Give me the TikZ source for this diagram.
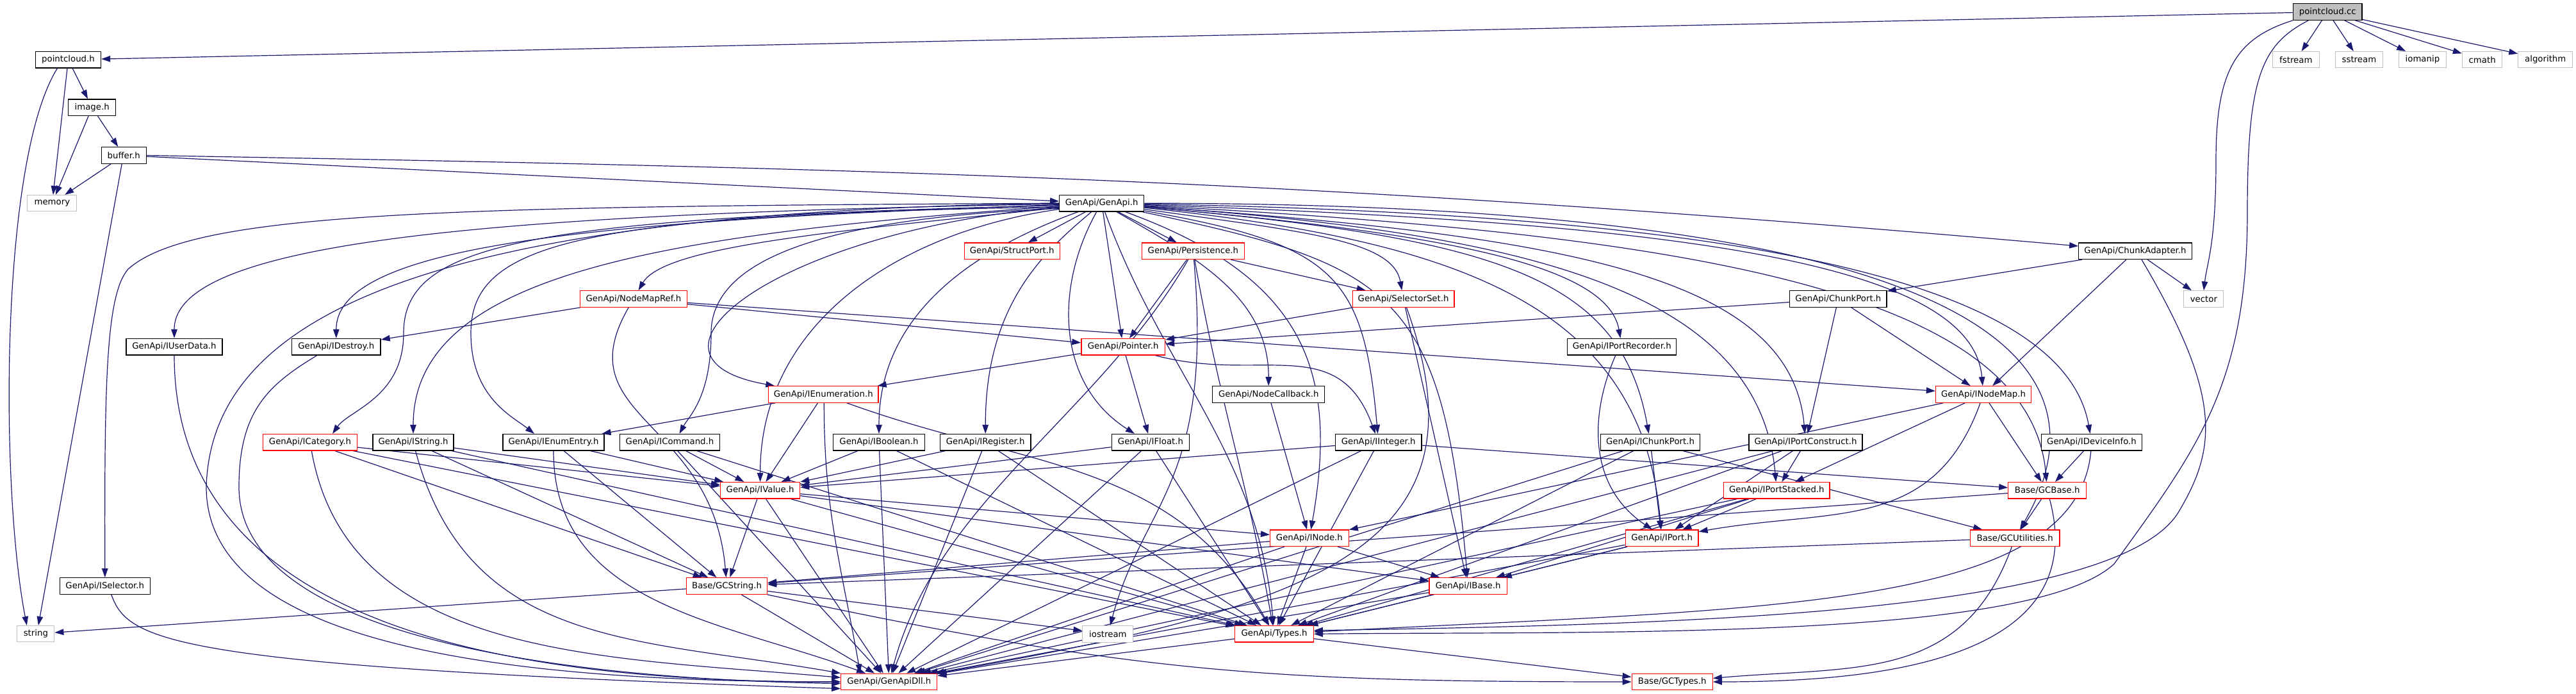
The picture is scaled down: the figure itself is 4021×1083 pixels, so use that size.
\documentclass[tikz,border=0pt]{standalone}
\usepackage{fontspec}
\setmainfont{DejaVu Sans}
\usetikzlibrary{arrows.meta}
\pgfdeclarelayer{bg}
\pgfsetlayers{bg,main}
\definecolor{edgec}{HTML}{191970}
\definecolor{grayb}{HTML}{BFBFBF}
\tikzset{
 box/.style={draw=black, line width=1.3pt, fill=white, minimum height=25.5pt, inner sep=0pt, font=\fontsize{13.3}{15}\selectfont, text=black},
 redbox/.style={box, draw=red},
 sysbox/.style={box, draw=grayb, line width=1pt},
 rootbox/.style={box, fill=grayb},
 edg/.style={draw=edgec, line width=1.2pt, -{Triangle[length=14pt,width=9.5pt]}},
}
% curved edge: source, out angle, out distance, in angle, in distance, target
\newcommand{\cedge}[6]{\draw[edg] (#1.#2) .. controls +(#2:#3pt) and +(#4:#5pt) .. (#6.#4);}
\begin{document}
\begin{tikzpicture}[x=1pt,y=-1pt]
\useasboundingbox (0,0) rectangle (4021,1083);
\node[rootbox, minimum width=107.5pt] (pc) at (3633.2,18.5) {pointcloud.cc};
\node[box, minimum width=102pt] (pch) at (106.5,93.2) {pointcloud.h};
\node[box, minimum width=74pt] (image) at (143.7,167.7) {image.h};
\node[box, minimum width=70pt] (buffer) at (193.2,242.5) {buffer.h};
\node[sysbox, minimum width=77pt] (memory) at (81.4,317.2) {memory};
\node[box, minimum width=132pt] (genapi) at (1719.7,317.2) {GenApi/GenApi.h};
\node[redbox, minimum width=149pt] (structport) at (1579.7,391.8) {GenApi/StructPort.h};
\node[redbox, minimum width=160pt] (persistence) at (1862.4,391.8) {GenApi/Persistence.h};
\node[box, minimum width=176.5pt] (chunkadapter) at (3333,391.8) {GenApi/ChunkAdapter.h};
\node[sysbox, minimum width=73.6pt] (fstream) at (3583.8,93.2) {fstream};
\node[sysbox, minimum width=74pt] (sstream) at (3682.4,93.2) {sstream};
\node[sysbox, minimum width=74pt] (iomanip) at (3781.4,93.2) {iomanip};
\node[sysbox, minimum width=62.5pt] (cmath) at (3874.6,93.2) {cmath};
\node[sysbox, minimum width=85pt] (algorithm) at (3973.2,93.2) {algorithm};
\node[sysbox, minimum width=62pt] (vector) at (3439.9,466.5) {vector};
\node[redbox, minimum width=149pt] (inodemap) at (3096,615.5) {GenApi/INodeMap.h};
\node[box, minimum width=157.6pt] (ideviceinfo) at (3265,690.2) {GenApi/IDeviceInfo.h};
\node[redbox, minimum width=167pt] (nodemapref) at (988.9,466.5) {GenApi/NodeMapRef.h};
\node[box, minimum width=150pt] (iuserdata) at (272,541.2) {GenApi/IUserData.h};
\node[box, minimum width=138.6pt] (idestroy) at (524.8,541.2) {GenApi/IDestroy.h};
\node[redbox, minimum width=146.7pt] (icategory) at (484,690.2) {GenApi/ICategory.h};
\node[box, minimum width=126pt] (istring) at (645,690.2) {GenApi/IString.h};
\node[box, minimum width=158pt] (ienumentry) at (864,690.2) {GenApi/IEnumEntry.h};
\node[box, minimum width=155.4pt] (icommand) at (1045.5,690.2) {GenApi/ICommand.h};
\node[redbox, minimum width=130.6pt] (pointer) at (1753.2,541.2) {GenApi/Pointer.h};
\node[redbox, minimum width=171.4pt] (ienumeration) at (1285.3,615.5) {GenApi/IEnumeration.h};
\node[box, minimum width=174.8pt] (nodecallback) at (1980.2,615.5) {GenApi/NodeCallback.h};
\node[box, minimum width=142.7pt] (iboolean) at (1372,690.2) {GenApi/IBoolean.h};
\node[box, minimum width=141.3pt] (iregister) at (1538.2,690.2) {GenApi/IRegister.h};
\node[box, minimum width=121.3pt] (ifloat) at (1796,690.2) {GenApi/IFloat.h};
\node[redbox, minimum width=158.8pt] (selectorset) at (2190.6,466.5) {GenApi/SelectorSet.h};
\node[box, minimum width=151.3pt] (chunkport) at (2869.4,466.5) {GenApi/ChunkPort.h};
\node[box, minimum width=170pt] (iportrecorder) at (2531.8,541.2) {GenApi/IPortRecorder.h};
\node[box, minimum width=134.6pt] (iinteger) at (2151.7,690.2) {GenApi/IInteger.h};
\node[box, minimum width=155.4pt] (ichunkport) at (2576,690.2) {GenApi/IChunkPort.h};
\node[box, minimum width=177pt] (iportconstruct) at (2818.5,690.2) {GenApi/IPortConstruct.h};
\node[box, minimum width=141.3pt] (iselector) at (163.8,914.5) {GenApi/ISelector.h};
\node[sysbox, minimum width=58pt] (string) at (55.9,989.2) {string};
\node[redbox, minimum width=124pt] (ivalue) at (1186.6,765.3) {GenApi/IValue.h};
\node[redbox, minimum width=126pt] (gcstring) at (1134.6,914.5) {Base/GCString.h};
\node[sysbox, minimum width=79pt] (iostream) at (1729.4,989.3) {iostream};
\node[redbox, minimum width=122.5pt] (types) at (1989,989.3) {GenApi/Types.h};
\node[redbox, minimum width=150pt] (genapidll) at (1387.8,1064) {GenApi/GenApiDll.h};
\node[redbox, minimum width=122.6pt] (inode) at (2043.9,839.8) {GenApi/INode.h};
\node[redbox, minimum width=165.4pt] (iportstacked) at (2773.3,765.3) {GenApi/IPortStacked.h};
\node[redbox, minimum width=113.8pt] (iport) at (2594.1,839.8) {GenApi/IPort.h};
\node[redbox, minimum width=121.3pt] (ibase) at (2291.7,914.5) {GenApi/IBase.h};
\node[redbox, minimum width=126pt] (gctypes) at (2610.2,1064) {Base/GCTypes.h};
\node[redbox, minimum width=121.8pt] (gcbase) at (3195.7,765.3) {Base/GCBase.h};
\node[redbox, minimum width=139.4pt] (gcutilities) at (3145.2,839.8) {Base/GCUtilities.h};

\begin{pgfonlayer}{bg}
% pointcloud.cc
\draw[edg] (pc) -- (pch);
\draw[edg] (pc) -- (fstream);
\draw[edg] (pc) -- (sstream);
\draw[edg] (pc) -- (iomanip);
\draw[edg] (pc) -- (cmath);
\draw[edg] (pc) -- (algorithm);
\draw[edg] (pc.south west) .. controls (3490,60) and (3459,110) .. (3459,250) .. controls (3459,380) and (3445,410) .. (vector.north);
\draw[edg] ([xshift=-30pt]pc.south) .. controls (3530,70) and (3508,120) .. (3508,330) .. controls (3508,600) and (3430,700) .. (3300,880) .. controls (3170,1000) and (2500,985) .. (types.east);
% pointcloud.h, image.h, buffer.h
\draw[edg] (pch) -- (image);
\draw[edg] (pch) -- (memory);
\draw[edg] ([xshift=-17pt]pch.south) .. controls (0,250) and (0,760) .. ([xshift=-14pt]string.north);
\draw[edg] (image) -- (buffer);
\draw[edg] (image) -- (memory);
\draw[edg] (buffer) -- (memory);
\draw[edg] ([xshift=-3pt]buffer.south) -- ([xshift=4pt]string.north);
\draw[edg] (buffer) -- (genapi);
\draw[edg] (buffer.east) .. controls +(-1:1180pt) and +(175:1180pt) .. (chunkadapter.175);
% GenApi.h fan, left
\draw[edg] (genapi.180) .. controls (700,322) and (300,330) .. (200,420) .. controls (165,460) and (163,600) .. (iselector.north);
\cedge{genapi}{181}{900}{90}{150}{iuserdata}
\cedge{genapi}{182}{700}{90}{150}{idestroy}
\draw[edg] (genapi.183) .. controls (820,340) and (630,380) .. (630,520) .. controls (630,620) and (545,640) .. ([xshift=35pt]icategory.north);
\cedge{genapi}{184}{620}{90}{250}{istring}
\draw[edg] (genapi.185) .. controls (900,335) and (735,380) .. (735,520) .. controls (735,620) and (800,650) .. ([xshift=-30pt]ienumentry.north);
\cedge{genapi}{186}{350}{60}{80}{nodemapref}
\draw[edg] (genapi.187) .. controls (1300,340) and (1110,400) .. (1110,520) .. controls (1110,620) and (1075,650) .. ([xshift=15pt]icommand.north);
\cedge{genapi}{185}{450}{170}{250}{ienumeration}
\cedge{genapi}{188}{250}{90}{250}{ivalue}
\cedge{genapi}{-160}{150}{90}{200}{iboolean}
\cedge{genapi}{-140}{100}{90}{200}{iregister}
\draw[edg] (genapi.west) .. controls (700,330) and (330,480) .. (322,760) .. controls (322,1010) and (800,1064) .. (genapidll.west);
% GenApi.h fan, down
\draw[edg] (genapi) -- (structport);
\draw[edg] (genapi) -- (persistence);
\draw[edg] (genapi) -- (pointer);
\draw[edg] ([xshift=-8pt]genapi.south) .. controls (1645,450) and (1650,600) .. ([xshift=-25pt]ifloat.north);
\cedge{genapi}{-70}{270}{95}{270}{types}
% GenApi.h fan, right
\cedge{genapi}{-30}{140}{90}{140}{nodecallback}
\cedge{genapi}{-20}{300}{80}{250}{inode}
\cedge{genapi}{-8}{250}{100}{80}{selectorset}
\cedge{genapi}{-10}{300}{95}{250}{iinteger}
\cedge{genapi}{-12}{400}{95}{450}{ibase}
\cedge{genapi}{-5}{450}{100}{120}{iportrecorder}
\cedge{genapi}{-5}{550}{100}{250}{ichunkport}
\cedge{genapi}{-4}{650}{95}{250}{iportconstruct}
\cedge{genapi}{-4}{600}{95}{300}{iportstacked}
\cedge{genapi}{-6}{500}{95}{350}{iport}
\cedge{genapi}{-2}{800}{95}{200}{inodemap}
\cedge{genapi}{-1}{900}{100}{250}{ideviceinfo}
\cedge{genapi}{-3}{850}{95}{300}{gcbase}
\cedge{genapi}{0}{1200}{60}{350}{gcutilities}
% ChunkAdapter, ChunkPort
\draw[edg] (chunkadapter) -- (chunkport);
\draw[edg] (chunkadapter) -- (inodemap);
\draw[edg] (chunkadapter) -- (vector);
\draw[edg] ([xshift=10pt]chunkadapter.south) .. controls (3470,620) and (3460,700) .. (3400,800) .. controls (3300,960) and (2600,975) .. (types.5);
\draw[edg] (chunkport) -- (pointer);
\draw[edg] (chunkport) -- (iportconstruct);
\draw[edg] (chunkport) -- (inodemap);
% NodeMapRef
\draw[edg] (nodemapref) -- (idestroy);
\draw[edg] (nodemapref) -- (pointer);
\draw[edg] (nodemapref) -- (inodemap);
\cedge{nodemapref}{-120}{200}{95}{250}{gcstring}
% Persistence, SelectorSet, Pointer
\draw[edg] (persistence) -- (pointer);
\draw[edg] (persistence) -- (selectorset);
\cedge{persistence}{-120}{280}{75}{280}{genapidll}
\cedge{persistence}{-85}{350}{75}{200}{iostream}
\cedge{persistence}{-80}{240}{100}{240}{types}
\draw[edg] (selectorset) -- (pointer);
\draw[edg] (selectorset) -- (ibase);
\cedge{selectorset}{-70}{400}{10}{600}{genapidll}
\draw[edg] (pointer) -- (ienumeration);
\draw[edg] (pointer) -- (ifloat);
\cedge{pointer}{-15}{170}{110}{170}{iinteger}
% IEnumeration, IEnumEntry
\draw[edg] (ienumeration) -- (ienumentry);
\draw[edg] (ienumeration) -- (ivalue);
\draw[edg] ([xshift=1pt]ienumeration.south) .. controls +(-90:170pt) and +(100:170pt) .. ([xshift=-45pt]genapidll.north);
\cedge{ienumeration}{-20}{300}{120}{300}{types}
\draw[edg] (ienumentry) -- (ivalue);
\draw[edg] (ienumentry) -- (gcstring);
\cedge{ienumentry}{-90}{240}{160}{240}{genapidll}
% left column
\draw[edg] ([xshift=10pt]iselector.south) .. controls (200,1000) and (260,1040) .. (genapidll.188);
\cedge{iuserdata}{-90}{450}{180}{450}{genapidll}
\draw[edg] ([xshift=-30pt]idestroy.south) .. controls (420,600) and (373,640) .. (373,760) .. controls (373,1000) and (900,1060) .. (genapidll.182);
\draw[edg] (icategory) -- (ivalue);
\draw[edg] (icategory) -- (gcstring);
\cedge{icategory}{-80}{330}{175}{370}{genapidll}
\draw[edg] (icategory) -- (types);
\draw[edg] (istring) -- (ivalue);
\draw[edg] (istring) -- (gcstring);
\cedge{istring}{-75}{320}{170}{320}{genapidll}
\draw[edg] (istring) -- (types);
% value interfaces
\draw[edg] (icommand) -- (ivalue);
\draw[edg] (icommand) -- (genapidll);
\draw[edg] (icommand) -- (types);
\draw[edg] (iboolean) -- (ivalue);
\draw[edg] (iboolean) -- (genapidll);
\draw[edg] (iboolean) -- (types);
\draw[edg] (iregister) -- (ivalue);
\draw[edg] (iregister) -- (genapidll);
\draw[edg] (iregister) -- (types);
\draw[edg] (ifloat) -- (ivalue);
\draw[edg] (ifloat) -- (genapidll);
\draw[edg] (ifloat) -- (types);
\draw[edg] (iinteger) -- (ivalue);
\draw[edg] (iinteger) -- (genapidll);
\draw[edg] (iinteger) -- (types);
\draw[edg] (iinteger) -- (gcbase);
\draw[edg] (nodecallback) -- (inode);
% ports
\draw[edg] ([xshift=-10pt]iportrecorder.south) .. controls (2480,650) and (2480,760) .. ([xshift=-15pt]iport.north);
\draw[edg] (ichunkport) -- (iport);
\draw[edg] (ichunkport) -- (genapidll);
\draw[edg] (ichunkport) -- (types);
\draw[edg] (ichunkport) -- (gcutilities);
\draw[edg] (iportconstruct) -- (iport);
\draw[edg] (iportconstruct) -- (iportstacked);
\draw[edg] (iportconstruct) -- (genapidll);
\draw[edg] (iportconstruct) -- (types);
\draw[edg] (iportstacked) -- (iport);
\draw[edg] (iportstacked) -- (ibase);
\draw[edg] (iportstacked) -- (types);
\draw[edg] (iportstacked) -- (genapidll);
% node map, device info, base
\draw[edg] (inodemap) -- (inode);
\cedge{inodemap}{-110}{215}{10}{215}{iport}
\draw[edg] (inodemap) -- (iportstacked);
\draw[edg] (inodemap) -- (gcbase);
\draw[edg] (ideviceinfo) -- (gcbase);
\cedge{ideviceinfo}{-95}{250}{3}{700}{types}
\draw[edg] (gcbase) -- (gcutilities);
\draw[edg] (gcbase) -- (gcstring);
\cedge{gcbase}{-75}{260}{0}{260}{gctypes}
\draw[edg] (gcutilities) -- (gcstring);
\cedge{gcutilities}{-110}{225}{5}{225}{gctypes}
% value, node, base
\draw[edg] (ivalue) -- (inode);
\draw[edg] (ivalue) -- (gcstring);
\draw[edg] (ivalue) -- (genapidll);
\draw[edg] (ivalue) -- (types);
\draw[edg] (ivalue) -- (ibase);
\draw[edg] (inode) -- (ibase);
\draw[edg] (inode) -- (types);
\draw[edg] (inode) -- (genapidll);
\draw[edg] (inode) -- (gcstring);
\draw[edg] (ibase) -- (types);
\draw[edg] (ibase) -- (genapidll);
\draw[edg] (iport) -- (ibase);
\draw[edg] (iport) -- (types);
\draw[edg] (iport) -- (genapidll);
% GCString, Types
\draw[edg] (gcstring) -- (string);
\draw[edg] (gcstring) -- (iostream);
\draw[edg] (gcstring) -- (genapidll);
\cedge{gcstring}{-12}{580}{180}{580}{gctypes}
\draw[edg] (types) -- (gctypes);
\draw[edg] (types) -- (genapidll);
\end{pgfonlayer}
\end{tikzpicture}
\end{document}
